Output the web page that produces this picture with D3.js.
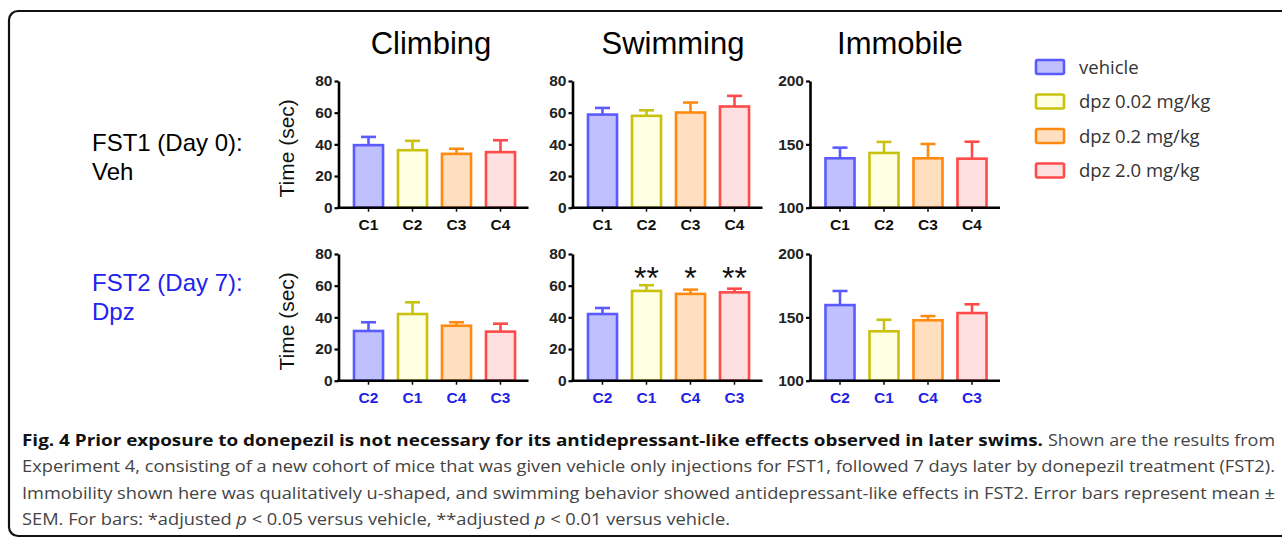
<!DOCTYPE html>
<html>
<head>
<meta charset="utf-8">
<script src="https://cdn.jsdelivr.net/npm/d3@7"></script>
<style>
  html, body { margin: 0; padding: 0; background: #fff; }
  svg { display: block; }
</style>
</head>
<body>
<svg id="fig" width="1282" height="538"></svg>
<script>
// Treatment groups (legend order) and their colours
const groups = ["vehicle", "dpz 0.02 mg/kg", "dpz 0.2 mg/kg", "dpz 2.0 mg/kg"];
const strokeColors = ["#5a5aff", "#c8c20e", "#ff8a10", "#ff4a4a"];
const fillColors = ["#c0c0ff", "#ffffe2", "#ffdfc0", "#ffe0e0"];

// Behaviour measures (columns) and tick values
const measures = ["Climbing", "Swimming", "Immobile"];
const timeTicks = [0, 20, 40, 60, 80];
const immobileTicks = [100, 150, 200];

// Cohort labels under each bar
const fst1Cohorts = ["C1", "C2", "C3", "C4"];
const fst2Cohorts = ["C2", "C1", "C4", "C3"];

// FST1 (Day 0): vehicle for all — mean and SEM (sec)
const fst1ClimbMean = [39.5, 36.3, 34.0, 35.1];
const fst1ClimbSem = [5.2, 5.9, 3.2, 7.5];
const fst1SwimMean = [58.8, 58.0, 60.1, 63.9];
const fst1SwimSem = [4.2, 3.5, 6.3, 6.7];
const fst1ImmMean = [139.0, 143.2, 139.0, 138.7];
const fst1ImmSem = [8.4, 8.7, 11.3, 13.4];

// FST2 (Day 7): donepezil doses — mean and SEM (sec)
const fst2ClimbMean = [31.4, 42.1, 34.7, 31.0];
const fst2ClimbSem = [5.5, 7.4, 2.2, 5.0];
const fst2SwimMean = [42.1, 56.7, 54.8, 55.8];
const fst2SwimSem = [3.8, 3.6, 2.7, 2.3];
const fst2ImmMean = [159.7, 139.0, 147.7, 153.4];
const fst2ImmSem = [11.1, 9.1, 3.3, 6.9];

// Significance marks for FST2 swimming
const fst2SwimStars = ["", "**", "*", "**"];

const svg = d3.select("#fig");

// Outer rounded frame
svg.append("rect")
  .attr("x", 9).attr("y", 11).attr("width", 1290).attr("height", 525)
  .attr("rx", 9).attr("ry", 9)
  .attr("fill", "none").attr("stroke", "#111").attr("stroke-width", 2.2);

// Column titles
const titleX = [431, 673, 900];
measures.forEach((m, i) => {
  svg.append("text")
    .attr("x", titleX[i]).attr("y", 54)
    .attr("text-anchor", "middle")
    .attr("font-family", "Liberation Sans, Arial, sans-serif")
    .attr("font-size", 31)
    .attr("fill", "#000")
    .text(m);
});

// Row labels
const rowLabels = [
  { lines: ["FST1 (Day 0):", "Veh"], color: "#000", y: 151 },
  { lines: ["FST2 (Day 7):", "Dpz"], color: "#2222ee", y: 291 }
];
rowLabels.forEach(r => {
  r.lines.forEach((t, k) => {
    svg.append("text")
      .attr("x", 92).attr("y", r.y + k * 29)
      .attr("font-family", "Liberation Sans, Arial, sans-serif")
      .attr("font-size", 24)
      .attr("fill", r.color)
      .text(t);
  });
});

// Panel geometry
const axisX = [338.5, 572.5, 810];
const rowTop = [81, 254];
const plotH = 126.7;

const rows = [
  {
    cohorts: fst1Cohorts, labelColor: "#111",
    data: [
      { mean: fst1ClimbMean, sem: fst1ClimbSem, domain: [0, 80], ticks: timeTicks },
      { mean: fst1SwimMean, sem: fst1SwimSem, domain: [0, 80], ticks: timeTicks },
      { mean: fst1ImmMean, sem: fst1ImmSem, domain: [100, 200], ticks: immobileTicks }
    ]
  },
  {
    cohorts: fst2Cohorts, labelColor: "#1f1fe6",
    data: [
      { mean: fst2ClimbMean, sem: fst2ClimbSem, domain: [0, 80], ticks: timeTicks },
      { mean: fst2SwimMean, sem: fst2SwimSem, domain: [0, 80], ticks: timeTicks, stars: fst2SwimStars },
      { mean: fst2ImmMean, sem: fst2ImmSem, domain: [100, 200], ticks: immobileTicks }
    ]
  }
];

const tickFont = "Liberation Sans, Arial, sans-serif";

rows.forEach((row, ri) => {
  const top = rowTop[ri];
  const bottom = top + plotH;

  // y-axis title on the first column
  svg.append("text")
    .attr("transform", `translate(294, ${(top + bottom) / 2 + 4}) rotate(-90)`)
    .attr("text-anchor", "middle")
    .attr("font-family", tickFont)
    .attr("font-size", 21)
    .attr("fill", "#111")
    .text("Time (sec)");

  row.data.forEach((panel, ci) => {
    const ax = axisX[ci];
    const g = svg.append("g");

    const y = d3.scaleLinear().domain(panel.domain).range([bottom, top]);
    const x = d3.scaleBand()
      .domain(d3.range(4))
      .range([ax + 8, ax + 184])
      .paddingInner(0.34)
      .paddingOuter(0.17);

    // bars
    g.selectAll("rect.bar")
      .data(panel.mean)
      .join("rect")
      .attr("class", "bar")
      .attr("x", (d, i) => x(i))
      .attr("width", x.bandwidth())
      .attr("y", d => y(d))
      .attr("height", d => bottom - y(d))
      .attr("fill", (d, i) => fillColors[i])
      .attr("stroke", (d, i) => strokeColors[i])
      .attr("stroke-width", 2.6);

    // error bars (upper only)
    panel.mean.forEach((m, i) => {
      const cx = x(i) + x.bandwidth() / 2;
      const yt = y(m + panel.sem[i]);
      g.append("line")
        .attr("x1", cx).attr("x2", cx)
        .attr("y1", y(m)).attr("y2", yt)
        .attr("stroke", strokeColors[i]).attr("stroke-width", 2.6);
      g.append("line")
        .attr("x1", cx - 7.5).attr("x2", cx + 7.5)
        .attr("y1", yt).attr("y2", yt)
        .attr("stroke", strokeColors[i]).attr("stroke-width", 2.6);
    });

    // significance stars
    if (panel.stars) {
      panel.stars.forEach((s, i) => {
        if (!s) return;
        g.append("text")
          .attr("x", x(i) + x.bandwidth() / 2)
          .attr("y", y(58))
          .attr("text-anchor", "middle")
          .attr("font-family", tickFont)
          .attr("font-size", 32)
          .attr("fill", "#111")
          .text(s);
      });
    }

    // y axis
    const yAxis = g.append("g")
      .attr("transform", `translate(${ax},0)`)
      .call(d3.axisLeft(y).tickValues(panel.ticks).tickSize(4).tickSizeOuter(0).tickPadding(2));
    yAxis.select(".domain").attr("stroke", "#000").attr("stroke-width", 2.6);
    yAxis.selectAll(".tick line").attr("stroke", "#000").attr("stroke-width", 2.2);
    yAxis.selectAll(".tick text")
      .attr("font-family", tickFont).attr("font-weight", "bold")
      .attr("font-size", 15.5).attr("fill", "#222");

    // x axis
    const xAxis = g.append("g")
      .attr("transform", `translate(0,${bottom})`)
      .call(d3.axisBottom(x).tickSize(4).tickSizeOuter(0).tickPadding(7)
        .tickFormat(i => row.cohorts[i]));
    xAxis.select(".domain")
      .attr("d", `M${ax - 1.3},0H${ax + 190}`)
      .attr("stroke", "#000").attr("stroke-width", 2.6);
    xAxis.selectAll(".tick line").attr("stroke", "#000").attr("stroke-width", 1.5);
    xAxis.selectAll(".tick text")
      .attr("font-family", tickFont).attr("font-weight", "bold")
      .attr("font-size", 15.5).attr("fill", row.labelColor);
  });
});

// Legend
const legend = svg.append("g");
groups.forEach((name, i) => {
  const cy = 67 + i * 34.5;
  legend.append("rect")
    .attr("x", 1036).attr("y", cy - 7)
    .attr("width", 28).attr("height", 14)
    .attr("rx", 1.5)
    .attr("fill", fillColors[i]).attr("stroke", strokeColors[i]).attr("stroke-width", 2.6);
  legend.append("text")
    .attr("x", 1079).attr("y", cy + 6.5)
    .attr("font-family", "Open Sans, sans-serif")
    .attr("font-size", 18.5)
    .attr("fill", "#333")
    .text(name);
});

// Caption: each segment is fitted to its own span so the lines justify
const capFont = "Open Sans, sans-serif";
const capSegments = [
  { t: "Fig. 4 Prior exposure to donepezil is not necessary for its antidepressant-like effects observed in later swims.", x: 22, w: 1021, line: 0, bold: true },
  { t: "Shown are the results from", x: 1048, w: 227, line: 0 },
  { t: "Experiment 4, consisting of a new cohort of mice that was given vehicle only injections for FST1, followed 7 days later by donepezil treatment (FST2).", x: 22, w: 1253, line: 1 },
  { t: "Immobility shown here was qualitatively u-shaped, and swimming behavior showed antidepressant-like effects in FST2. Error bars represent mean ±", x: 22, w: 1253, line: 2 }
];
capSegments.forEach(s => {
  svg.append("text")
    .attr("x", s.x).attr("y", 446 + s.line * 26.3)
    .attr("font-family", capFont)
    .attr("font-size", 16)
    .attr("font-weight", s.bold ? "bold" : "normal")
    .attr("fill", s.bold ? "#111" : "#444")
    .attr("textLength", s.w).attr("lengthAdjust", "spacingAndGlyphs")
    .text(s.t);
});
const lastParts = [
  { t: "SEM. For bars: *adjusted " }, { t: "p", i: true }, { t: " < 0.05 versus vehicle, **adjusted " },
  { t: "p", i: true }, { t: " < 0.01 versus vehicle." }
];
const last = svg.append("text")
  .attr("x", 22).attr("y", 446 + 3 * 26.3)
  .attr("font-family", capFont)
  .attr("font-size", 16)
  .attr("fill", "#444")
  .attr("textLength", 708).attr("lengthAdjust", "spacingAndGlyphs");
lastParts.forEach(p => {
  const ts = last.append("tspan").text(p.t);
  if (p.i) ts.attr("font-style", "italic");
});
</script>
</body>
</html>
